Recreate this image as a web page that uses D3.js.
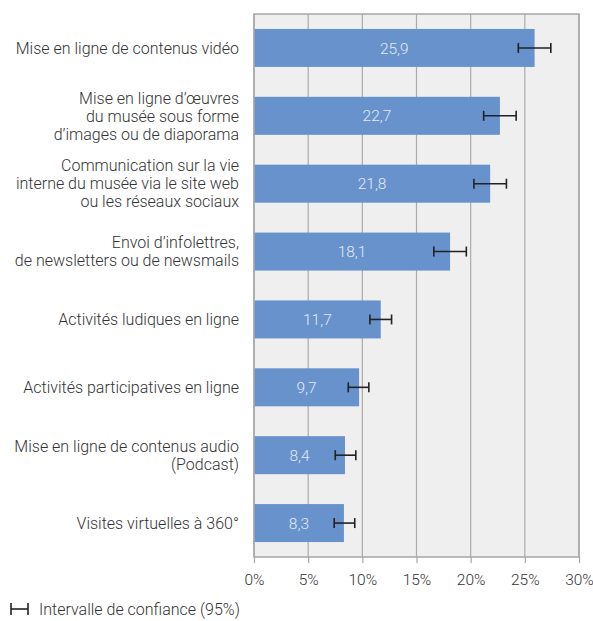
<html>
<head>
<style>
  body { margin: 0; background: #fff; }
  text { font-family: Roboto, "Noto Sans", sans-serif; font-weight: 300; }
</style>
</head>
<body>
  <svg id="svg" width="593" height="621"></svg>

  <script src="https://cdn.jsdelivr.net/npm/d3@7"></script>
  <script type="text/javascript">
  // data
  const categories = [
    ["Mise en ligne de contenus vidéo"],
    ["Mise en ligne d’œuvres", "du musée sous forme", "d’images ou de diaporama"],
    ["Communication sur la vie", "interne du musée via le site web", "ou les réseaux sociaux"],
    ["Envoi d’infolettres,", "de newsletters ou de newsmails"],
    ["Activités ludiques en ligne"],
    ["Activités participatives en ligne"],
    ["Mise en ligne de contenus audio", "(Podcast)"],
    ["Visites virtuelles à 360°"]
  ];
  const values = [25.9, 22.7, 21.8, 18.1, 11.7, 9.7, 8.4, 8.3];
  const errLow = [24.4, 21.2, 20.3, 16.6, 10.7, 8.7, 7.5, 7.4];
  const errHigh = [27.4, 24.2, 23.3, 19.6, 12.7, 10.6, 9.4, 9.3];
  const ticks = [0, 5, 10, 15, 20, 25, 30];

  const pl = 254, pr = 579, pt = 14, pb = 557;
  const svg = d3.select("#svg");

  let x = d3.scaleLinear().domain([0, 30]).range([pl, pr]);
  let y = d3.scaleBand().domain(d3.range(values.length)).range([pt, pb]).paddingInner(0.44).paddingOuter(0.22);

  // plot background
  svg.append("rect")
    .attr("x", pl).attr("y", pt)
    .attr("width", pr - pl).attr("height", pb - pt)
    .attr("fill", "#efefef");

  // grid
  svg.append("g").selectAll("line").data(ticks).enter().append("line")
    .attr("x1", d => x(d)).attr("x2", d => x(d))
    .attr("y1", pt).attr("y2", pb)
    .attr("stroke", "#ababab").attr("stroke-width", 1.2);

  // bars
  svg.append("g").selectAll("rect").data(values).enter().append("rect")
    .attr("x", x(0))
    .attr("y", (d, i) => y(i))
    .attr("width", d => x(d) - x(0))
    .attr("height", y.bandwidth())
    .attr("fill", "#6892cb");

  // value labels
  svg.append("g").selectAll("text").data(values).enter().append("text")
    .attr("x", d => (x(0) + x(d)) / 2)
    .attr("y", (d, i) => y(i) + y.bandwidth() / 2)
    .attr("dy", "0.36em")
    .attr("text-anchor", "middle")
    .attr("font-size", 15.5)
    .attr("fill", "#e2eaf6")
    .text(d => d.toFixed(1).replace(".", ","));

  // error bars
  let eg = svg.append("g").attr("stroke", "#222").attr("stroke-width", 1.6);
  values.forEach(function(v, i) {
    let cy = y(i) + y.bandwidth() / 2;
    eg.append("line").attr("x1", x(errLow[i])).attr("x2", x(errHigh[i])).attr("y1", cy).attr("y2", cy);
    eg.append("line").attr("x1", x(errLow[i])).attr("x2", x(errLow[i])).attr("y1", cy - 5).attr("y2", cy + 5);
    eg.append("line").attr("x1", x(errHigh[i])).attr("x2", x(errHigh[i])).attr("y1", cy - 5).attr("y2", cy + 5);
  });

  // frame
  svg.append("rect")
    .attr("x", pl).attr("y", pt)
    .attr("width", pr - pl).attr("height", pb - pt)
    .attr("fill", "none").attr("stroke", "#a6a6a6").attr("stroke-width", 1.5);

  // x axis
  let xa = svg.append("g").attr("transform", "translate(0," + pb + ")")
    .call(d3.axisBottom(x).tickValues(ticks).tickSize(6).tickFormat(d => d + "%"));
  xa.select(".domain").remove();
  xa.selectAll("line").attr("stroke", "#a6a6a6").attr("stroke-width", 1.2);
  xa.selectAll("text").attr("font-size", 15.5).attr("fill", "#333")
    .attr("font-family", "Roboto, sans-serif").attr("dy", "1.2em");

  // category labels
  let cg = svg.append("g").selectAll("text").data(categories).enter().append("text")
    .attr("text-anchor", "end")
    .attr("font-size", 16)
    .attr("fill", "#333")
    .attr("y", (d, i) => y(i) + y.bandwidth() / 2 - (d.length - 1) * 9);
  cg.selectAll("tspan").data(d => d).enter().append("tspan")
    .attr("x", 239)
    .attr("dy", (d, j) => j == 0 ? "0.36em" : 18)
    .text(d => d);

  // legend
  let lg = svg.append("g").attr("stroke", "#222").attr("stroke-width", 1.6);
  lg.append("line").attr("x1", 11).attr("x2", 28).attr("y1", 609).attr("y2", 609);
  lg.append("line").attr("x1", 11).attr("x2", 11).attr("y1", 603).attr("y2", 615);
  lg.append("line").attr("x1", 28).attr("x2", 28).attr("y1", 603).attr("y2", 615);
  svg.append("text").attr("x", 39).attr("y", 609).attr("dy", "0.36em")
    .attr("font-size", 16).attr("fill", "#333")
    .text("Intervalle de confiance (95%)");
  </script>
</body>
</html>
